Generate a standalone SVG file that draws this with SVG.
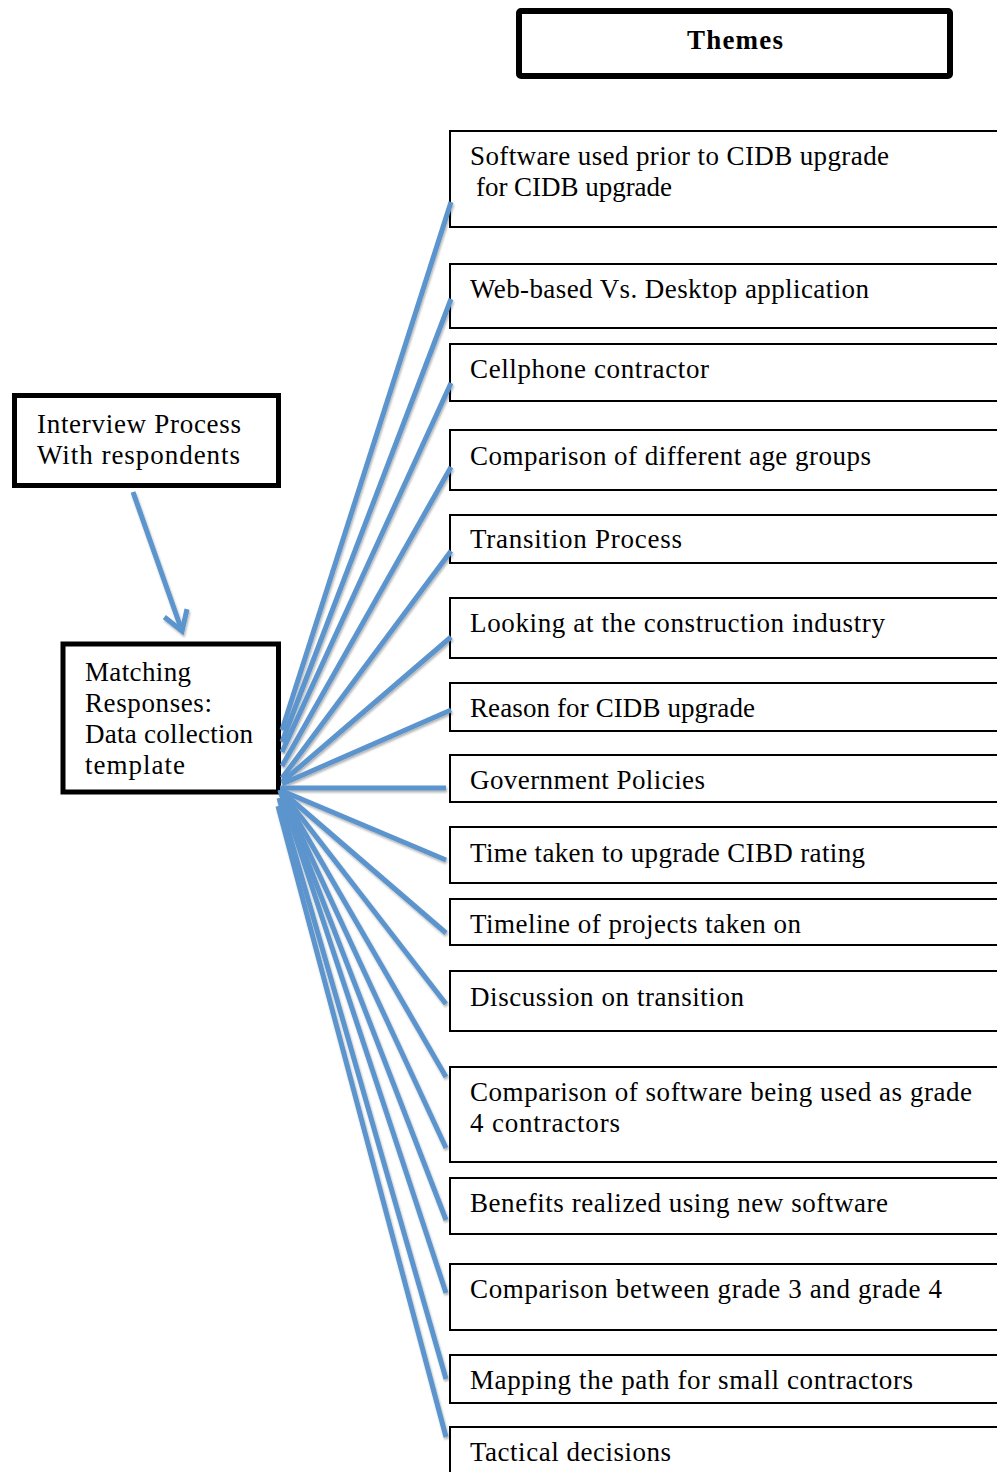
<svg xmlns="http://www.w3.org/2000/svg" width="997" height="1472" viewBox="0 0 997 1472">
<style>
  text { font-family: "Liberation Serif", "Times New Roman", serif; font-size: 27px; fill: #000; }
  .title { font-weight: bold; }
  .thick { fill: #fff; stroke: #000; stroke-width: 5; }
  .theme { fill: #fff; stroke: #000; stroke-width: 2; }
  .conn line { stroke: #5b94cd; stroke-width: 5; stroke-linecap: butt; fill: none; }
</style>
<defs>
  <filter id="sh" x="-10%" y="-10%" width="120%" height="120%">
    <feDropShadow dx="1" dy="2" stdDeviation="1.2" flood-color="#000" flood-opacity="0.3"/>
  </filter>
  <marker id="open" markerUnits="userSpaceOnUse" markerWidth="30" markerHeight="30" viewBox="-22 -15 26 30" refX="0" refY="0" orient="auto">
    <path d="M-19,-12 L0,0 L-19,12" fill="none" stroke="#5b94cd" stroke-width="5" stroke-linejoin="miter"/>
  </marker>
</defs>
<rect width="997" height="1472" fill="#fff"/>

<g id="themes">
  <rect x="519" y="11" width="431" height="65" rx="2" fill="#fff" stroke="#000" stroke-width="6"/>
  <text class="title" x="687" y="49" textLength="96" lengthAdjust="spacing">Themes</text>
</g>

<g id="interview">
  <rect class="thick" x="14.5" y="395.5" width="264" height="90"/>
  <text x="37" y="433" textLength="204" lengthAdjust="spacing">Interview Process</text>
  <text x="37" y="464" textLength="203" lengthAdjust="spacing">With respondents</text>
</g>

<g id="matching">
  <rect class="thick" x="63" y="644" width="215.5" height="148"/>
  <text x="85" y="681" textLength="106" lengthAdjust="spacing">Matching</text>
  <text x="85" y="712" textLength="127" lengthAdjust="spacing">Responses:</text>
  <text x="85" y="743" textLength="168" lengthAdjust="spacing">Data collection</text>
  <text x="85" y="774" textLength="100" lengthAdjust="spacing">template</text>
</g>

<g id="t1"><rect class="theme" x="450" y="131" width="560" height="96"/>
  <text x="470" y="165" textLength="419" lengthAdjust="spacing">Software used prior to CIDB upgrade</text>
  <text x="476" y="196" textLength="196" lengthAdjust="spacing">for CIDB upgrade</text></g>
<g id="t2"><rect class="theme" x="450" y="264" width="560" height="64"/>
  <text x="470" y="298" textLength="399" lengthAdjust="spacing">Web-based Vs. Desktop application</text></g>
<g id="t3"><rect class="theme" x="450" y="344" width="560" height="57"/>
  <text x="470" y="378" textLength="239" lengthAdjust="spacing">Cellphone contractor</text></g>
<g id="t4"><rect class="theme" x="450" y="430" width="560" height="60"/>
  <text x="470" y="465" textLength="401" lengthAdjust="spacing">Comparison of different age groups</text></g>
<g id="t5"><rect class="theme" x="450" y="515" width="560" height="48"/>
  <text x="470" y="548" textLength="212" lengthAdjust="spacing">Transition Process</text></g>
<g id="t6"><rect class="theme" x="450" y="598" width="560" height="60"/>
  <text x="470" y="632" textLength="415" lengthAdjust="spacing">Looking at the construction industry</text></g>
<g id="t7"><rect class="theme" x="450" y="683" width="560" height="48"/>
  <text x="470" y="717" textLength="285" lengthAdjust="spacing">Reason for CIDB upgrade</text></g>
<g id="t8"><rect class="theme" x="450" y="755" width="560" height="47"/>
  <text x="470" y="789" textLength="235" lengthAdjust="spacing">Government Policies</text></g>
<g id="t9"><rect class="theme" x="450" y="827" width="560" height="56"/>
  <text x="470" y="862" textLength="395" lengthAdjust="spacing">Time taken to upgrade CIBD rating</text></g>
<g id="t10"><rect class="theme" x="450" y="899" width="560" height="46"/>
  <text x="470" y="933" textLength="331" lengthAdjust="spacing">Timeline of projects taken on</text></g>
<g id="t11"><rect class="theme" x="450" y="971" width="560" height="60"/>
  <text x="470" y="1006" textLength="274" lengthAdjust="spacing">Discussion on transition</text></g>
<g id="t12"><rect class="theme" x="450" y="1067" width="560" height="95"/>
  <text x="470" y="1101" textLength="502" lengthAdjust="spacing">Comparison of software being used as grade</text>
  <text x="470" y="1132" textLength="150" lengthAdjust="spacing">4 contractors</text></g>
<g id="t13"><rect class="theme" x="450" y="1178" width="560" height="56"/>
  <text x="470" y="1212" textLength="418" lengthAdjust="spacing">Benefits realized using new software</text></g>
<g id="t14"><rect class="theme" x="450" y="1264" width="560" height="66"/>
  <text x="470" y="1298" textLength="472" lengthAdjust="spacing">Comparison between grade 3 and grade 4</text></g>
<g id="t15"><rect class="theme" x="450" y="1355" width="560" height="48"/>
  <text x="470" y="1389" textLength="443" lengthAdjust="spacing">Mapping the path for small contractors</text></g>
<g id="t16"><rect class="theme" x="450" y="1427" width="560" height="60"/>
  <text x="470" y="1461" textLength="201" lengthAdjust="spacing">Tactical decisions</text></g>

<g id="connectors" class="conn" filter="url(#sh)">
  <line x1="133" y1="492" x2="182" y2="631" marker-end="url(#open)"/>
  <line x1="282" y1="730" x2="451" y2="202"/>
  <line x1="282" y1="742" x2="451" y2="299"/>
  <line x1="282" y1="752" x2="451" y2="383"/>
  <line x1="282" y1="766" x2="451" y2="467"/>
  <line x1="282" y1="778" x2="451" y2="551"/>
  <line x1="282" y1="782" x2="451" y2="637"/>
  <line x1="282" y1="784" x2="451" y2="710"/>
  <line x1="280" y1="788" x2="446" y2="788"/>
  <line x1="280" y1="790" x2="446" y2="860"/>
  <line x1="280" y1="790" x2="446" y2="933"/>
  <line x1="280" y1="790" x2="446" y2="1004"/>
  <line x1="280" y1="790" x2="446" y2="1077"/>
  <line x1="280" y1="790" x2="446" y2="1148"/>
  <line x1="280" y1="790" x2="446" y2="1220"/>
  <line x1="280" y1="790" x2="446" y2="1293"/>
  <line x1="279" y1="798" x2="446" y2="1379"/>
  <line x1="278" y1="806" x2="446" y2="1437"/>
</g>
</svg>
